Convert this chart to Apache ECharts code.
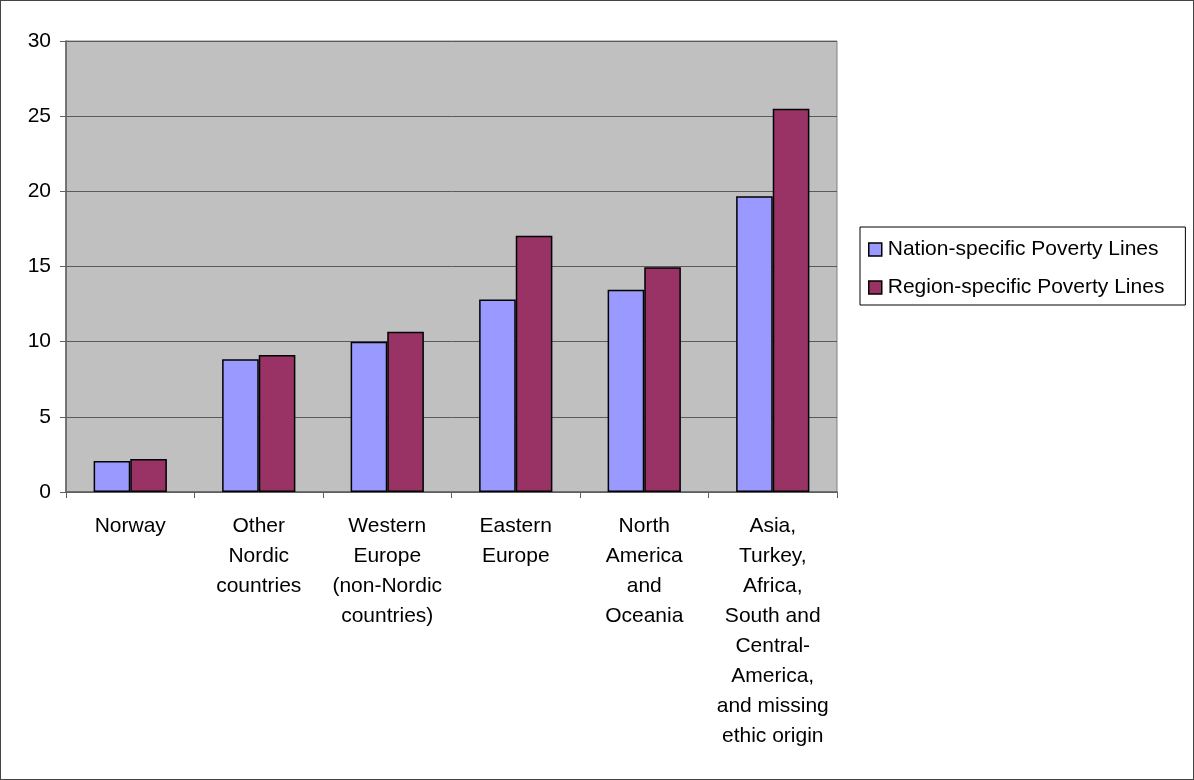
<!DOCTYPE html>
<html>
<head>
<meta charset="utf-8">
<script src="https://cdn.jsdelivr.net/npm/echarts@6/dist/echarts.min.js"></script>
<style>
  html, body { margin: 0; padding: 0; background: #fff; }
  #chart { width: 1194px; height: 780px; box-sizing: border-box; border: 1px solid #444; }
</style>
</head>
<body>
<div id="chart"></div>
<script>
// Poverty rates by origin group (percent)
const categories = [
  'Norway',
  'Other\nNordic\ncountries',
  'Western\nEurope\n(non-Nordic\ncountries)',
  'Eastern\nEurope',
  'North\nAmerica\nand\nOceania',
  'Asia,\nTurkey,\nAfrica,\nSouth and\nCentral-\nAmerica,\nand missing\nethic origin'
];
const seriesNames = ['Nation-specific Poverty Lines', 'Region-specific Poverty Lines'];
const nationValues = [2.07, 8.83, 10.0, 12.8, 13.46, 19.67];
const regionValues = [2.2, 9.12, 10.66, 17.04, 14.95, 25.5];
const yTicks = { min: 0, max: 30, interval: 5 };

const font = 'Liberation Sans, Arial, sans-serif';
const chart = echarts.init(document.getElementById('chart'), null, { renderer: 'canvas' });

chart.setOption({
  animation: false,
  backgroundColor: '#ffffff',
  textStyle: { fontFamily: font, color: '#000' },
  grid: {
    left: 65, right: 356, top: 40, bottom: 287,
    show: true, backgroundColor: '#c0c0c0', borderColor: '#808080', borderWidth: 1,
    containLabel: false
  },
  legend: {
    orient: 'vertical',
    left: 859, top: 226,
    padding: [12, 21, 7, 8],
    itemGap: 17,
    itemWidth: 13, itemHeight: 13,
    borderColor: '#000', borderWidth: 1,
    backgroundColor: '#fff',
    icon: 'rect',
    textStyle: { fontFamily: font, fontSize: 21, color: '#000', padding: [0, 0, 0, 1] },
    itemStyle: { borderColor: '#000', borderWidth: 1.5 },
    data: seriesNames
  },
  xAxis: {
    type: 'category',
    data: categories,
    boundaryGap: true,
    axisLine: { show: true, lineStyle: { color: '#606060', width: 1.5 } },
    axisTick: { show: true, length: 6, alignWithLabel: false, lineStyle: { color: '#606060' } },
    axisLabel: {
      interval: 0, fontFamily: font, fontSize: 21, color: '#000',
      lineHeight: 30, margin: 19, align: 'center'
    },
    splitLine: { show: false }
  },
  yAxis: {
    type: 'value',
    min: yTicks.min, max: yTicks.max, interval: yTicks.interval,
    axisLine: { show: true, lineStyle: { color: '#606060', width: 1.5 } },
    axisTick: { show: true, length: 6, lineStyle: { color: '#606060' } },
    axisLabel: { fontFamily: font, fontSize: 21, color: '#000', margin: 15 },
    splitLine: { show: true, lineStyle: { color: '#5a5a5a', width: 1 } }
  },
  series: [
    {
      name: seriesNames[0], type: 'bar', data: nationValues,
      barGap: '0%', barCategoryGap: '43%',
      itemStyle: { color: '#9999ff', borderColor: '#000', borderWidth: 1.5 }
    },
    {
      name: seriesNames[1], type: 'bar', data: regionValues,
      barGap: '0%', barCategoryGap: '43%',
      itemStyle: { color: '#993366', borderColor: '#000', borderWidth: 1.5 }
    }
  ]
});
</script>
</body>
</html>
